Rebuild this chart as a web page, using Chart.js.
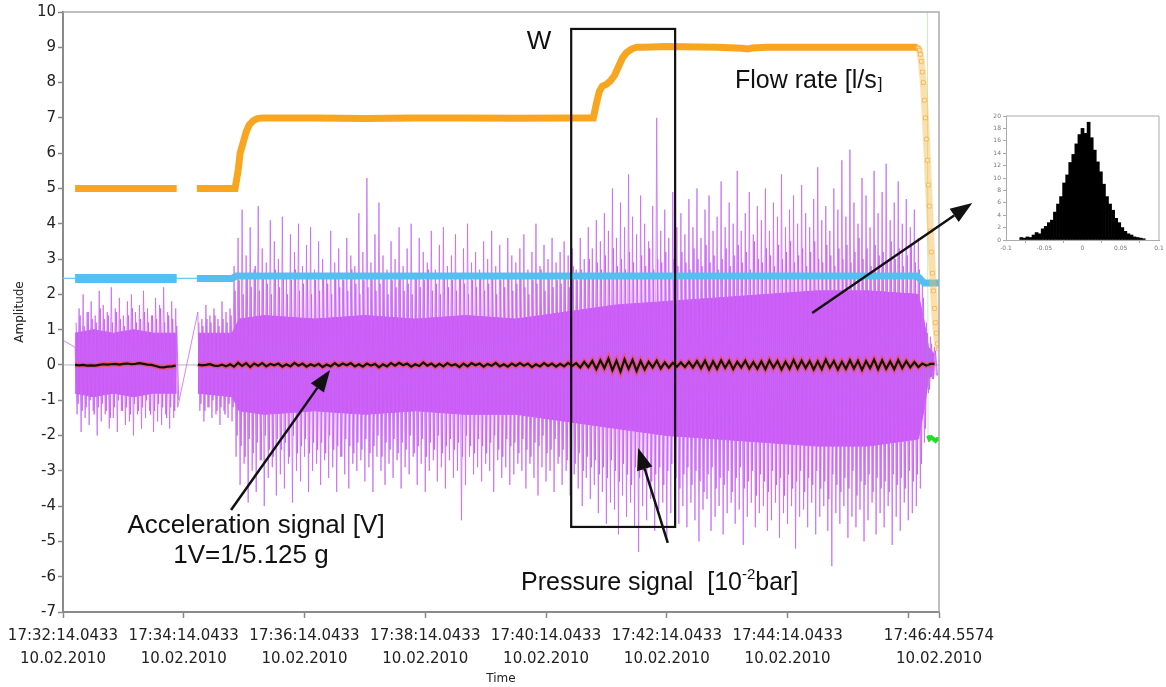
<!DOCTYPE html>
<html><head><meta charset="utf-8">
<script src="https://cdn.jsdelivr.net/npm/chart.js@4.4.1/dist/chart.umd.min.js"></script>
<style>
html,body{margin:0;padding:0;background:#fff;}
#wrap{position:relative;width:1166px;height:687px;overflow:hidden;background:#fff;}
#main{position:absolute;left:0;top:0;}
#hist{position:absolute;left:975px;top:100px;}
</style></head><body>
<div id="wrap"><canvas id="main" width="1166" height="687"></canvas><canvas id="hist" width="191" height="160"></canvas></div>
<script>
// ---------- axis ticks ----------
const xTickSeconds = [0, 120, 240, 360, 480, 600, 720, 840, 870.5141];
const xTickTimes = ['17:32:14.0433','17:34:14.0433','17:36:14.0433','17:38:14.0433','17:40:14.0433','17:42:14.0433','17:44:14.0433','','17:46:44.5574'];
const xTickDate = '10.02.2010';
const xMax = 870.5141;

// ---------- flow rate [l/s] (orange) ----------
const flowTimes  = [12, 60, 113, 123, 133, 150, 171, 174, 176, 179, 182, 185, 189, 193, 198, 250, 300, 350, 400, 450, 500, 527, 530, 533, 536, 540, 544, 548, 552, 556, 560, 565, 570, 577, 600, 650, 675, 680, 685, 700, 750, 800, 849];
const flowValues = [5.0, 5.0, 5.0, null, 5.0, 5.0, 5.0, 5.5, 6.0, 6.3, 6.6, 6.8, 6.92, 6.98, 7.0, 7.0, 6.98, 7.0, 7.0, 6.99, 7.0, 7.0, 7.4, 7.75, 7.9, 7.95, 8.05, 8.2, 8.45, 8.7, 8.85, 8.95, 9.0, 9.0, 9.02, 9.0, 8.97, 8.95, 8.98, 9.0, 9.0, 9.0, 9.0];
const flowDropTimes  = [849, 850, 851, 852, 853, 854, 855, 856, 857, 858, 859, 860, 861, 862, 863, 864, 865, 866, 867, 868, 869, 870];
const flowDropValues = [9.0, 8.97, 8.92, 8.8, 8.6, 8.3, 8.0, 7.5, 7.0, 6.4, 5.8, 5.1, 4.5, 3.8, 3.2, 2.6, 2.1, 1.6, 1.2, 0.9, 0.6, 0.45];

// ---------- blue level signal ----------
const levelTimes  = [0, 12, 60, 113, 133, 168, 172, 400, 600, 849, 853, 856, 870.5];
const levelValues = [2.45, 2.45, 2.45, 2.45, 2.45, 2.45, 2.52, 2.52, 2.52, 2.52, 2.4, 2.32, 2.32];

// ---------- pressure signal [10^-2 bar] (violet) ----------
const pressureLeadTime = 0, pressureLeadValue = 0.7;
const pressureStart1 = 12, pressureStart2 = 134, pressureStep = 4;
// outer spikes
const pressureHi1 = [0.5,1.6,2.0,1.5,1.8,1.4,2.1,1.7,1.5,2.2,1.6,1.9,1.4,1.8,2.0,1.5,1.7,2.1,1.6,1.4,1.9,1.7,2.2,1.5,1.8,1.6];
const pressureLo1 = [-1.4,-1.9,-1.5,-1.7,-1.3,-2.0,-1.6,-1.4,-1.8,-1.5,-1.9,-1.3,-1.7,-1.6,-2.0,-1.4,-1.8,-1.5,-1.3,-1.9,-1.6,-1.7,-1.4,-1.8,-1.5,-1.2];
const pressureHi2 = [
 1.5,1.3,1.7,1.4,1.6,1.3,1.8,1.5,1.6,2.8,
 3.6,4.4,3.1,3.9,2.7,4.5,3.3,2.9,4.1,3.5,
 3.0,4.2,2.6,3.7,3.2,4.0,2.8,3.4,3.9,2.7,
 3.5,3.0,2.6,3.8,2.9,3.3,2.5,3.6,3.1,2.8,
 4.3,3.2,5.3,2.9,3.7,4.6,3.1,2.7,3.5,3.0,
 3.9,2.8,3.3,4.0,2.6,3.6,3.2,2.9,3.8,2.7,
 3.4,3.9,2.8,3.1,3.7,2.6,3.3,4.0,2.9,3.2,
 2.7,3.5,3.0,3.8,2.8,3.4,2.6,3.6,3.1,2.9,
 3.3,3.7,2.7,3.2,4.0,2.8,3.4,3.0,3.6,2.9,
 3.2,3.5,3.1,3.3,2.7,3.6,3.0,3.9,3.3,4.1,
 3.5,4.3,3.8,5.0,3.6,4.6,3.9,5.4,4.2,3.7,
 4.8,4.0,3.5,4.5,7.0,3.8,4.4,3.6,4.9,3.9,
 4.3,3.7,4.7,3.9,5.0,3.6,4.4,4.8,3.8,4.2,
 5.2,3.9,4.6,4.0,5.5,3.8,4.3,4.9,3.7,4.5,
 4.1,5.0,3.8,4.6,4.2,5.4,3.9,4.4,4.8,4.0,
 5.1,4.3,3.9,4.7,5.6,4.1,4.5,3.8,5.0,4.4,
 5.8,4.2,6.1,4.6,4.0,5.3,4.8,3.9,5.5,4.3,
 4.9,5.7,4.1,4.6,5.2,4.0,4.7,3.9,4.4,3.6,
 2.5,1.2,0.8,0.5];
const pressureLo2 = [
 -1.3,-1.6,-1.2,-1.5,-1.4,-1.7,-1.3,-1.5,-1.6,-2.6,
 -3.4,-2.8,-3.9,-3.0,-3.6,-2.7,-4.0,-3.2,-2.9,-3.7,
 -3.1,-3.5,-2.8,-3.9,-3.0,-3.3,-2.6,-3.6,-3.0,-2.8,
 -3.4,-2.7,-3.2,-2.9,-3.6,-2.6,-3.1,-3.5,-2.8,-3.0,
 -2.7,-3.3,-2.9,-3.6,-2.6,-3.0,-3.4,-2.8,-3.2,-2.7,
 -3.5,-2.9,-3.1,-2.6,-3.4,-2.8,-3.6,-3.0,-2.7,-3.3,
 -2.9,-3.5,-2.7,-3.2,-3.0,-4.4,-3.4,-2.6,-3.1,-2.9,
 -3.3,-2.8,-3.0,-3.6,-2.7,-3.2,-2.9,-3.4,-3.1,-2.8,
 -3.0,-3.5,-2.8,-3.2,-3.7,-2.9,-3.3,-3.0,-3.6,-2.8,
 -3.4,-3.0,-3.7,-3.1,-3.5,-4.0,-3.2,-3.8,-3.4,-4.2,
 -3.6,-4.5,-3.9,-4.1,-4.8,-3.7,-4.3,-3.9,-4.6,-5.3,
 -4.0,-4.4,-3.8,-4.7,-4.1,-3.9,-4.9,-4.2,-3.8,-4.5,
 -4.0,-4.6,-3.9,-4.4,-5.0,-4.1,-3.8,-4.7,-4.3,-4.0,
 -4.8,-4.2,-3.9,-4.5,-4.1,-5.1,-4.3,-3.9,-4.6,-4.2,
 -4.0,-4.7,-4.4,-3.9,-4.9,-4.2,-4.5,-4.0,-5.2,-4.3,
 -4.1,-4.6,-3.9,-4.8,-4.3,-4.0,-4.7,-5.7,-4.2,-4.5,
 -4.0,-4.9,-4.3,-4.6,-4.1,-5.0,-4.4,-3.9,-4.8,-4.2,
 -4.6,-4.0,-5.1,-4.3,-4.7,-3.9,-4.4,-4.2,-4.0,-3.5,
 -2.2,-0.8,-0.4,-0.3];
// denser medium-height spikes (sampled between the outer ones)
const pressureMidHi1 = [1.2,1.4,1.1,1.5,1.3,1.2,1.6,1.3,1.4,1.2,1.5,1.3,1.1,1.4,1.6,1.2,1.3,1.5,1.2,1.4,1.3,1.6,1.2,1.4,1.3,1.1];
const pressureMidLo1 = [-1.1,-1.3,-1.2,-1.0,-1.4,-1.2,-1.1,-1.3,-1.5,-1.2,-1.0,-1.3,-1.2,-1.4,-1.1,-1.3,-1.2,-1.0,-1.4,-1.3,-1.1,-1.2,-1.5,-1.2,-1.3,-1.0];
const pressureMidHi2 = [
 1.2,1.1,1.3,1.2,1.4,1.1,1.3,1.2,1.4,2.1,
 2.4,2.0,2.6,2.2,2.8,2.1,2.5,2.3,2.0,2.7,
 2.2,2.5,2.0,2.4,2.7,2.1,2.3,2.6,2.0,2.4,
 2.1,2.5,2.3,2.0,2.6,2.2,2.4,2.1,2.7,2.3,
 2.0,2.4,2.2,2.6,2.1,2.3,2.5,2.0,2.4,2.2,
 2.6,2.1,2.3,2.0,2.5,2.2,2.4,2.7,2.1,2.3,
 2.0,2.5,2.2,2.4,2.1,2.6,2.3,2.0,2.4,2.2,
 2.5,2.1,2.3,2.6,2.0,2.4,2.2,2.5,2.1,2.3,
 2.6,2.2,2.0,2.4,2.3,2.7,2.1,2.5,2.2,2.4,
 2.3,2.6,2.2,2.8,2.4,2.7,2.5,3.0,2.6,2.9,
 2.7,3.1,2.6,3.3,2.8,3.0,2.7,3.2,2.9,2.6,
 3.1,2.8,3.3,2.7,3.0,2.9,3.2,2.6,3.0,2.8,
 3.2,2.9,2.7,3.3,3.0,2.8,3.4,2.9,3.1,2.7,
 3.0,3.3,2.8,3.1,3.4,2.9,3.2,2.7,3.5,3.0,
 2.9,3.3,3.1,2.8,3.4,3.0,3.2,3.5,2.9,3.1,
 3.3,2.8,3.2,3.5,3.0,2.9,3.4,3.1,2.8,3.3,
 3.0,3.4,2.9,3.2,3.6,3.0,3.3,2.8,3.4,3.1,
 3.2,2.9,3.5,3.0,3.3,2.8,3.1,3.4,2.9,2.7,
 1.9,0.9,0.6,0.4];
const pressureMidLo2 = [
 -1.1,-1.3,-1.2,-1.0,-1.3,-1.2,-1.4,-1.1,-1.2,-2.0,
 -2.3,-2.6,-2.1,-2.5,-2.2,-2.7,-2.0,-2.4,-2.6,-2.1,
 -2.4,-2.2,-2.6,-2.0,-2.5,-2.3,-2.1,-2.5,-2.2,-2.4,
 -2.2,-2.5,-2.0,-2.4,-2.3,-2.6,-2.1,-2.3,-2.5,-2.2,
 -2.4,-2.1,-2.5,-2.3,-2.0,-2.6,-2.2,-2.4,-2.1,-2.5,
 -2.2,-2.4,-2.0,-2.5,-2.3,-2.1,-2.6,-2.2,-2.4,-2.0,
 -2.5,-2.3,-2.1,-2.4,-2.2,-2.6,-2.0,-2.3,-2.5,-2.1,
 -2.3,-2.5,-2.2,-2.0,-2.4,-2.6,-2.1,-2.3,-2.2,-2.5,
 -2.1,-2.4,-2.6,-2.2,-2.3,-2.0,-2.5,-2.4,-2.1,-2.6,
 -2.4,-2.7,-2.3,-2.8,-2.5,-3.0,-2.6,-2.9,-2.7,-3.1,
 -2.9,-3.2,-2.7,-3.0,-3.3,-2.8,-3.1,-3.4,-2.9,-3.2,
 -3.0,-2.8,-3.3,-3.1,-2.9,-3.4,-3.0,-2.8,-3.2,-3.5,
 -3.1,-2.9,-3.4,-3.0,-3.3,-3.6,-3.1,-2.9,-3.5,-3.2,
 -3.4,-3.0,-3.6,-3.2,-2.9,-3.5,-3.3,-3.0,-3.7,-3.1,
 -3.3,-3.6,-3.0,-3.4,-3.2,-3.7,-3.1,-3.5,-3.3,-3.0,
 -3.6,-3.2,-3.4,-3.0,-3.5,-3.3,-3.8,-3.1,-3.4,-3.6,
 -3.2,-3.5,-3.0,-3.7,-3.3,-3.4,-3.1,-3.6,-3.2,-3.5,
 -3.3,-3.6,-3.1,-3.4,-3.2,-3.5,-3.0,-3.3,-3.1,-2.8,
 -1.8,-0.7,-0.4,-0.3];
// dense core of the pressure trace
const coreTimes1 = [12, 30, 50, 70, 90, 113];
const coreHi1 = [0.9, 1.0, 0.9, 1.0, 0.9, 0.9];
const coreLo1 = [-0.8, -0.9, -0.8, -0.9, -0.8, -0.8];
const coreTimes2 = [134, 168, 175, 200, 250, 300, 350, 400, 450, 500, 550, 600, 650, 700, 750, 800, 850, 856, 860, 866];
const coreHi2 = [0.9, 0.9, 1.3, 1.4, 1.3, 1.4, 1.3, 1.4, 1.3, 1.5, 1.7, 1.8, 1.9, 2.0, 2.1, 2.1, 2.0, 1.2, 0.5, 0.3];
const coreLo2 = [-0.8, -0.9, -1.3, -1.4, -1.3, -1.4, -1.3, -1.4, -1.4, -1.6, -1.8, -2.0, -2.1, -2.2, -2.3, -2.3, -2.1, -1.2, -0.4, -0.25];

// ---------- acceleration signal [V] (black) ----------
const accel1 = [0.0,-0.01,0.0,-0.02,-0.01,-0.02,0.0,0.02,0.01,0.02,0.03,0.01,0.03,0.04,0.02,0.03,0.05,0.03,0.01,0.0,-0.03,-0.06,-0.07,-0.05,-0.04,-0.02];
const accel2 = [
 0.01,-0.01,0.0,0.02,-0.02,-0.03,0.01,-0.04,0.02,-0.05,
 0.06,-0.03,0.05,-0.06,0.04,-0.02,0.05,-0.04,0.03,-0.01,
 0.04,-0.05,0.02,-0.04,0.06,-0.02,0.04,-0.05,0.02,-0.03,
 0.03,-0.06,0.01,-0.04,0.05,-0.03,0.04,-0.01,0.05,-0.04,
 0.02,-0.05,0.04,-0.02,0.03,-0.07,0.02,-0.04,0.05,-0.02,
 0.06,-0.01,0.04,-0.05,0.02,-0.03,0.07,-0.02,0.04,-0.05,
 0.03,-0.04,0.05,-0.02,0.02,-0.06,0.04,-0.04,0.05,-0.01,
 0.04,-0.05,0.03,-0.02,0.06,-0.04,0.02,-0.05,0.04,-0.03,
 0.05,-0.02,0.04,-0.06,0.02,-0.04,0.05,-0.03,0.04,-0.05,
 0.03,-0.04,0.06,-0.03,0.05,-0.07,0.09,-0.06,0.11,-0.12,
 0.13,-0.09,0.18,-0.15,0.12,-0.19,0.16,-0.11,0.14,-0.17,
 0.11,-0.13,0.09,-0.07,0.12,-0.10,0.07,-0.08,0.06,-0.05,
 0.07,-0.06,0.09,-0.07,0.11,-0.09,0.12,-0.13,0.10,-0.11,
 0.13,-0.08,0.11,-0.12,0.09,-0.07,0.12,-0.10,0.08,-0.11,
 0.10,-0.12,0.13,-0.08,0.11,-0.13,0.09,-0.11,0.14,-0.10,
 0.12,-0.09,0.11,-0.13,0.10,-0.12,0.15,-0.08,0.11,-0.13,
 0.09,-0.11,0.13,-0.10,0.12,-0.14,0.11,-0.09,0.15,-0.12,
 0.13,-0.11,0.10,-0.12,0.14,-0.09,0.11,-0.07,0.08,-0.06,
 0.04,-0.02,0.03,0.03];

// ---------- green trace ----------
const greenTimes  = [859, 859.6, 861, 863, 865, 867, 869, 870.5];
const greenValues = [10.0, -2.0, -2.1, -2.05, -2.1, -2.15, -2.1, -2.1];

// ---------- zero reference ----------
const zeroTimes = [0, 870.5];
const zeroValues = [0, 0];

// ---------- inset histogram ----------
const histStart = -0.08, histBin = 0.004;
const histCounts = [0.4,0.3,0.5,0.4,0.8,1.2,1.0,1.8,2.2,2.8,3.2,4.5,5.8,7.0,9.2,10.5,12.5,13.8,15.5,17.0,18.0,17.2,19.0,16.5,14.5,12.6,11.0,9.0,7.0,5.8,4.8,3.5,2.8,2.0,1.4,1.0,0.8,0.5,0.4,0.3,0.2];
const histXTicks = [-0.1, -0.05, 0, 0.05, 0.1];

// ================= build datasets =================
const xy = (ts, vs) => ts.map((t, i) => ({x: t, y: vs[i]}));
function zig(start, step, hi, lo) {
  const out = [];
  hi.forEach((h, i) => { out.push({x: start + i*step, y: h}); out.push({x: start + i*step + step/2, y: lo[i]}); });
  return out;
}
const pressureData = [{x: pressureLeadTime, y: pressureLeadValue}]
  .concat(zig(pressureStart1, pressureStep, pressureHi1, pressureLo1))
  .concat(zig(pressureStart2, pressureStep, pressureHi2, pressureLo2));
const pressureMidData = zig(pressureStart1 + 1, pressureStep, pressureMidHi1, pressureMidLo1)
  .concat([{x: 123, y: null}])
  .concat(zig(pressureStart2 + 1, pressureStep, pressureMidHi2, pressureMidLo2));
const accelData = accel1.map((v, i) => ({x: pressureStart1 + i*pressureStep, y: v}))
  .concat([{x: 123, y: null}])
  .concat(accel2.map((v, i) => ({x: pressureStart2 + i*pressureStep, y: v})));
const levelAll = xy(levelTimes, levelValues);
const levelA = levelAll.filter(p => p.x >= 12 && p.x <= 113);
const levelB = levelAll.filter(p => p.x >= 133);

const VIOLET = 'rgb(206,88,247)';
const base = {pointRadius: 0, tension: 0, spanGaps: false, fill: false};

const datasets = [
  Object.assign({}, base, {label: 'flowDrop', data: xy(flowDropTimes, flowDropValues), borderColor: 'rgba(250,185,70,0.45)', borderWidth: 7,
    pointRadius: 2.6, pointStyle: 'rect', pointBorderColor: 'rgba(240,160,30,0.6)', pointBackgroundColor: 'rgba(255,240,210,0.7)', pointBorderWidth: 1, order: 0}),
  Object.assign({}, base, {label: 'flow', data: xy(flowTimes, flowValues), borderColor: '#F8A520', borderWidth: 7, borderCapStyle: 'butt', order: 1}),
  Object.assign({}, base, {label: 'levelA', data: levelA, borderColor: '#55BFF0', borderWidth: 9, borderCapStyle: 'butt', order: 2}),
  Object.assign({}, base, {label: 'levelB', data: levelB, borderColor: '#55BFF0', borderWidth: 7, borderCapStyle: 'butt', order: 2}),
  Object.assign({}, base, {label: 'levelThin', data: levelAll, borderColor: '#6CC8F2', borderWidth: 1.3, order: 3}),
  Object.assign({}, base, {label: 'greenThick', data: xy(greenTimes.slice(1), greenValues.slice(1)), borderColor: '#1EE01E', borderWidth: 4, order: 4}),
  Object.assign({}, base, {label: 'greenThin', data: xy(greenTimes, greenValues), borderColor: 'rgba(60,220,60,0.35)', borderWidth: 1, order: 4}),
  Object.assign({}, base, {label: 'accel', data: accelData, borderColor: '#111', borderWidth: 2.2, order: 5}),
  Object.assign({}, base, {label: 'accelRed', data: accelData, borderColor: 'rgba(240,80,80,0.8)', borderWidth: 5, order: 6}),
  Object.assign({}, base, {label: 'pressure', data: pressureData, borderColor: 'rgba(200,105,245,0.8)', borderWidth: 1, order: 7}),
  Object.assign({}, base, {label: 'pressureMid', data: pressureMidData, borderColor: 'rgba(205,92,247,0.9)', borderWidth: 1, order: 7}),
  Object.assign({}, base, {label: 'core1Hi', data: xy(coreTimes1, coreHi1), borderColor: VIOLET, borderWidth: 1, fill: '+1', backgroundColor: VIOLET, order: 8}),
  Object.assign({}, base, {label: 'core1Lo', data: xy(coreTimes1, coreLo1), borderColor: VIOLET, borderWidth: 1, order: 8}),
  Object.assign({}, base, {label: 'core2Hi', data: xy(coreTimes2, coreHi2), borderColor: VIOLET, borderWidth: 1, fill: '+1', backgroundColor: VIOLET, order: 8}),
  Object.assign({}, base, {label: 'core2Lo', data: xy(coreTimes2, coreLo2), borderColor: VIOLET, borderWidth: 1, order: 8}),
  Object.assign({}, base, {label: 'zero', data: xy(zeroTimes, zeroValues), borderColor: 'rgba(150,150,150,0.7)', borderWidth: 1, order: 9})
];

// ================= plugins =================
const framePlugin = {
  id: 'frame',
  afterDraw(chart) {
    const a = chart.chartArea, c = chart.ctx;
    c.save();
    c.strokeStyle = '#aaa'; c.lineWidth = 1.5;
    c.beginPath(); c.moveTo(a.left, a.top); c.lineTo(a.right, a.top); c.lineTo(a.right, a.bottom); c.stroke();
    c.restore();
  }
};
function arrow(c, x1, y1, x2, y2, len, half) {
  const ang = Math.atan2(y2 - y1, x2 - x1);
  const bx = x2 - len*Math.cos(ang), by = y2 - len*Math.sin(ang);
  c.beginPath(); c.moveTo(x1, y1); c.lineTo(bx, by); c.stroke();
  c.beginPath(); c.moveTo(x2, y2);
  c.lineTo(bx + half*Math.sin(ang), by - half*Math.cos(ang));
  c.lineTo(bx - half*Math.sin(ang), by + half*Math.cos(ang));
  c.closePath(); c.fill();
}
const annotArrows = [
  {from: [167, -4.11], to: [265.4, -0.14]},
  {from: [601, -5.04], to: [571.6, -2.35]},
  {from: [744.5, 1.47], to: [903.6, 4.59]}
];
const annotBox = {x: [505, 608.3], y: [9.52, -4.59]};
const annotPlugin = {
  id: 'annot',
  afterDraw(chart) {
    const c = chart.ctx, X = chart.scales.x, Y = chart.scales.y;
    c.save();
    c.strokeStyle = '#111'; c.fillStyle = '#111';
    c.lineWidth = 2.2;
    const bx1 = X.getPixelForValue(annotBox.x[0]), bx2 = X.getPixelForValue(annotBox.x[1]);
    const by1 = Y.getPixelForValue(annotBox.y[0]), by2 = Y.getPixelForValue(annotBox.y[1]);
    c.strokeRect(bx1, by1, bx2 - bx1, by2 - by1);
    c.lineWidth = 2.5;
    annotArrows.forEach(a => arrow(c, X.getPixelForValue(a.from[0]), Y.getPixelForValue(a.from[1]), X.getPixelForValue(a.to[0]), Y.getPixelForValue(a.to[1]), 22, 8));
    const F = s => s + 'px "Liberation Sans", Arial, sans-serif';
    c.textBaseline = 'alphabetic';
    c.font = F(26); c.textAlign = 'center';
    c.fillText('W', 539, 49);
    c.fillText('Acceleration signal [V]', 256, 533);
    c.fillText('1V=1/5.125 g', 251, 563);
    c.textAlign = 'left';
    c.font = F(25);
    c.fillText('Flow rate [l/s', 735, 88);
    let w = c.measureText('Flow rate [l/s').width;
    c.font = F(17); c.fillText(']', 735 + w + 1, 89);
    let px = 521;
    c.font = F(25);
    c.fillText('Pressure signal  [10', px, 590); px += c.measureText('Pressure signal  [10').width;
    c.font = F(15); c.fillText('-2', px, 579); px += c.measureText('-2').width;
    c.font = F(25); c.fillText('bar]', px, 590);
    c.restore();
  }
};

const tickFont = {family: 'DejaVu Sans', size: 15, lineHeight: 1.55};
new Chart(document.getElementById('main'), {
  type: 'line',
  data: {datasets},
  options: {
    responsive: false, animation: false, devicePixelRatio: 1,
    layout: {padding: {top: 12, right: 227, left: 0, bottom: 0}},
    plugins: {legend: {display: false}, tooltip: {enabled: false}},
    scales: {
      x: {
        type: 'linear', min: 0, max: xMax,
        afterBuildTicks: s => { s.ticks = xTickSeconds.map(v => ({value: v})); },
        afterFit: s => { s.height = 75; },
        ticks: {autoSkip: false, maxRotation: 0, minRotation: 0, font: tickFont, color: '#222', padding: 6,
          callback: (v, i) => xTickTimes[i] ? [xTickTimes[i], xTickDate] : ''},
        grid: {drawOnChartArea: false, drawTicks: true, tickLength: 6, color: '#888', tickWidth: 1.5},
        border: {display: true, color: '#8a8a8a', width: 2},
        title: {display: true, text: 'Time', font: {family: 'DejaVu Sans', size: 12}, color: '#222', padding: {top: 0, bottom: 1}}
      },
      y: {
        min: -7, max: 10,
        afterFit: s => { s.width = 63; },
        ticks: {stepSize: 1, font: {family: 'DejaVu Sans', size: 15}, color: '#222', padding: 2},
        grid: {drawOnChartArea: false, drawTicks: true, tickLength: 5, color: '#888', tickWidth: 1.5},
        border: {display: true, color: '#8a8a8a', width: 2},
        title: {display: true, text: 'Amplitude', font: {family: 'DejaVu Sans', size: 12}, color: '#222', padding: {top: 13, bottom: 0}}
      }
    }
  },
  plugins: [framePlugin, annotPlugin]
});

// ================= inset histogram =================
const histData = histCounts.map((v, i) => ({x: histStart + i*histBin, y: v}));
const smallFont = {family: 'DejaVu Sans', size: 6};
new Chart(document.getElementById('hist'), {
  type: 'bar',
  data: {datasets: [{data: histData, backgroundColor: '#000', borderWidth: 0, barPercentage: 1, categoryPercentage: 1, grouped: false}]},
  options: {
    responsive: false, animation: false, devicePixelRatio: 1,
    layout: {padding: {top: 16, right: 7, left: 0, bottom: 0}},
    plugins: {legend: {display: false}, tooltip: {enabled: false}},
    scales: {
      x: {type: 'linear', min: -0.1, max: 0.1, offset: false,
        afterBuildTicks: s => { s.ticks = histXTicks.map(v => ({value: v})); },
        afterFit: s => { s.height = 20; },
        ticks: {font: smallFont, color: '#777', padding: 2, maxRotation: 0, callback: v => String(v)},
        grid: {drawOnChartArea: false, tickLength: 3, color: '#aaa'},
        border: {color: '#aaa', width: 1}},
      y: {min: 0, max: 20,
        afterFit: s => { s.width = 31; },
        ticks: {stepSize: 2, font: smallFont, color: '#777', padding: 2},
        grid: {drawOnChartArea: false, tickLength: 3, color: '#aaa'},
        border: {color: '#aaa', width: 1}}
    }
  },
  plugins: [{id: 'hframe', afterDraw(chart) {
    const a = chart.chartArea, c = chart.ctx;
    c.save(); c.strokeStyle = '#aaa'; c.lineWidth = 1;
    c.beginPath(); c.moveTo(a.left, a.top); c.lineTo(a.right, a.top); c.lineTo(a.right, a.bottom); c.stroke(); c.restore();
  }}]
});
</script>
</body></html>
